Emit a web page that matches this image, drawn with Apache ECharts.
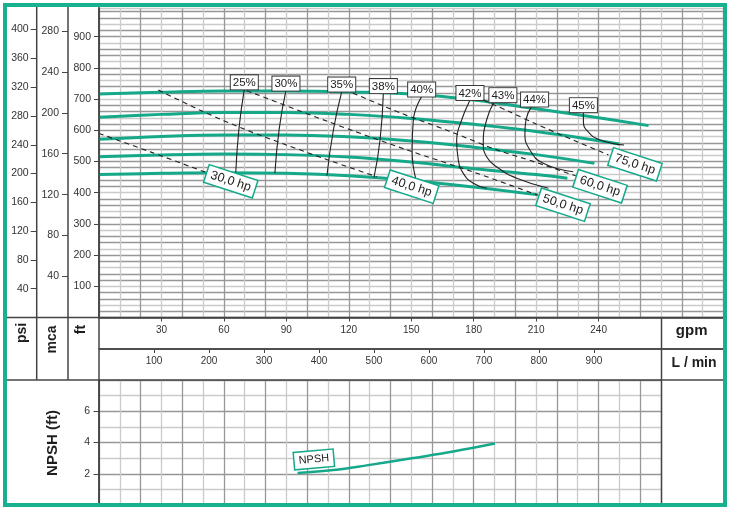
<!DOCTYPE html>
<html><head><meta charset="utf-8">
<script src="https://cdn.jsdelivr.net/npm/echarts@6/dist/echarts.min.js"></script>
<style>html,body{margin:0;padding:0;background:#fff}#c{width:730px;height:512px}</style>
</head><body><div id="c"></div>
<script>
// ---------- DATA ----------
const gpmTicks = [30, 60, 90, 120, 150, 180, 210, 240];
const lpmTicks = [100, 200, 300, 400, 500, 600, 700, 800, 900];
const ftTicks = [100, 200, 300, 400, 500, 600, 700, 800, 900];
const mcaTicks = [40, 80, 120, 160, 200, 240, 280];
const psiTicks = [40, 80, 120, 160, 200, 240, 280, 320, 360, 400];
const npshTicks = [2, 4, 6];

// head curves (gpm, ft)
const head1Gpm = [0, 30, 60, 90, 120, 150, 180, 210, 240, 264];
const head1Ft  = [716, 722, 726, 726, 723, 716, 697, 669, 640, 615];
const head2Gpm = [0, 30, 60, 90, 120, 150, 180, 210, 250];
const head2Ft  = [642, 651, 657, 657, 651, 638, 619, 596, 556];
const head3Gpm = [0, 30, 60, 90, 120, 150, 180, 210, 238];
const head3Ft  = [571, 580, 585, 585, 579, 566, 546, 522, 494];
const head4Gpm = [0, 30, 60, 90, 120, 150, 180, 210, 225];
const head4Ft  = [515, 521, 524, 522, 514, 498, 477, 458, 446];
const head5Gpm = [0, 30, 60, 90, 120, 150, 180, 211];
const head5Ft  = [458, 462, 464, 462, 454, 439, 418, 393];

// efficiency curves
const effNames = ['25%', '30%', '35%', '38%', '40%', '42%', '43%', '44%', '45%'];
const eff25Gpm = [69.8, 67.2, 65.7];            const eff25Ft = [731, 603, 464];
const eff30Gpm = [89.8, 86.6, 84.5];            const eff30Ft = [727, 606, 463];
const eff35Gpm = [116.6, 112.6, 109.5];         const eff35Ft = [724, 601, 455];
const eff38Gpm = [136.6, 135, 132.1];           const eff38Ft = [719, 569, 449];
const eff40Gpm = [155, 151, 150.4, 152.3];      const eff40Ft = [708, 633, 537, 441];
const eff42Gpm = [178.2, 173.5, 171.8, 172.6, 175, 179.8, 186.2];
const eff42Ft  = [697, 620, 569, 505, 462, 430, 414];
const eff43Gpm = [189.7, 186.2, 184.6, 186.2, 191, 200.7, 215.9];
const eff43Ft  = [690, 633, 558, 515, 483, 446, 414];
const eff44Gpm = [207.8, 205.1, 204.6, 207, 213.4, 227.8];
const eff44Ft  = [676, 633, 590, 537, 494, 467];
const eff45Gpm = [232.7, 232.7, 235, 240.7, 252.2];
const eff45Ft  = [658, 628, 595, 569, 553];

// power lines
const hpNames = ['30,0 hp', '40,0 hp', '50,0 hp', '60,0 hp', '75,0 hp'];
const hp30Gpm = [0, 25, 51];                     const hp30Ft = [590, 530, 466];
const hp40Gpm = [28.5, 50, 70, 90, 110, 133.4];  const hp40Ft = [729, 660, 603, 553, 505, 451];
const hp50Gpm = [71, 110, 148, 180, 210.4];      const hp50Ft = [727, 628, 537, 466, 393];
const hp60Gpm = [122, 145, 168, 190, 210, 229];  const hp60Ft = [719, 655, 598, 540, 497, 454];
const hp75Gpm = [184.6, 197, 210, 228, 244.7];   const hp75Ft = [697, 660, 620, 568, 521];

// NPSH
const npshGpm = [95.4, 112.6, 127.8, 150.2, 170.2, 190.2];
const npshFt  = [2.05, 2.24, 2.52, 2.99, 3.42, 3.93];

// ---------- CONSTANTS / STYLE ----------
const FT_MAX = 990, GPM_MAX = 300, GPM_LOW_MAX = 270;
const LPM_PER_GPM = 3.78541, M_PER_FT = 0.3048, PSI_PER_FT = 0.4335;
const TEAL = '#15a98a', FRAME = '#17b18f', INK = '#222', AX = '#444', GD = '#979797', GL = '#cbcbcb';
const FONT = '"Liberation Sans", Arial, Helvetica, sans-serif';

function pts(xs, ys) { return xs.map((x, i) => [x, ys[i]]); }
function rotOff(dx, dy, deg) {
  const r = deg * Math.PI / 180, c = Math.cos(r), s = Math.sin(r);
  return [dx * c - dy * s, dx * s + dy * c];
}

const series = [];
[[head1Gpm, head1Ft], [head2Gpm, head2Ft], [head3Gpm, head3Ft], [head4Gpm, head4Ft], [head5Gpm, head5Ft]]
  .forEach(([xs, ys]) => series.push({
    type: 'line', xAxisIndex: 0, yAxisIndex: 0, data: pts(xs, ys), smooth: 0.4,
    showSymbol: false, silent: true, z: 3, lineStyle: { color: TEAL, width: 3 }
  }));

const effLabelShift = [0, 0, 0, 0, 0, 0, 9, 3, 0];
[[eff25Gpm, eff25Ft], [eff30Gpm, eff30Ft], [eff35Gpm, eff35Ft], [eff38Gpm, eff38Ft], [eff40Gpm, eff40Ft],
 [eff42Gpm, eff42Ft], [eff43Gpm, eff43Ft], [eff44Gpm, eff44Ft], [eff45Gpm, eff45Ft]]
  .forEach(([xs, ys], k) => {
    const data = pts(xs, ys).map((p, i) => i === 0 ? {
      value: p, label: {
        show: true, position: 'top', distance: 0, offset: [effLabelShift[k], 0], formatter: effNames[k],
        backgroundColor: '#fff', borderColor: '#3a3a3a', borderWidth: 1, padding: [1, 2, 0, 2],
        fontSize: 11.5, lineHeight: 13, color: INK, fontFamily: FONT
      }
    } : { value: p });
    series.push({
      type: 'line', xAxisIndex: 0, yAxisIndex: 0, data, smooth: 0.5, showSymbol: true,
      symbol: 'circle', symbolSize: 0.1, itemStyle: { color: '#222' }, label: { show: false },
      lineStyle: { color: '#222', width: 1.1 }, z: 5, silent: true
    });
  });

const hpOffsets = [[25.6, 9.2], [35, 9.9], [26, 9.8], [24.3, 10.4], [26.6, 9.4]];
[[hp30Gpm, hp30Ft], [hp40Gpm, hp40Ft], [hp50Gpm, hp50Ft], [hp60Gpm, hp60Ft], [hp75Gpm, hp75Ft]]
  .forEach(([xs, ys], k) => {
    const n = xs.length;
    const data = pts(xs, ys).map((p, i) => i === n - 1 ? {
      value: p, label: {
        show: true, position: 'inside', rotate: -18, offset: rotOff(hpOffsets[k][0], hpOffsets[k][1], -18),
        align: 'center', verticalAlign: 'middle', formatter: hpNames[k],
        backgroundColor: '#fff', borderColor: TEAL, borderWidth: 1.5, padding: [2, 4, 1, 4],
        fontSize: 12.5, lineHeight: 14, color: INK, fontFamily: FONT
      }
    } : { value: p });
    series.push({
      type: 'line', xAxisIndex: 0, yAxisIndex: 0, data, smooth: 0.3, showSymbol: true,
      symbol: 'circle', symbolSize: 0.1, itemStyle: { color: '#222' }, label: { show: false },
      lineStyle: { color: '#222', width: 1.1, type: [5, 4] }, z: 6, silent: true
    });
  });

series.push({
  type: 'line', xAxisIndex: 3, yAxisIndex: 4, smooth: 0.4, showSymbol: true, symbol: 'circle', symbolSize: 0.1,
  itemStyle: { color: TEAL }, lineStyle: { color: TEAL, width: 2.5 }, z: 5, silent: true, label: { show: false },
  data: pts(npshGpm, npshFt).map((p, i) => i === 0 ? {
    value: p, label: {
      show: true, position: 'inside', rotate: 5, offset: rotOff(16.3, -13.5, 5),
      align: 'center', verticalAlign: 'middle', formatter: 'NPSH',
      backgroundColor: '#fff', borderColor: TEAL, borderWidth: 1.5, padding: [2, 4, 1, 4],
      fontSize: 11, lineHeight: 13, color: INK, fontFamily: FONT
    }
  } : { value: p })
});

// ---------- AXES ----------
const hiddenBits = { axisLine: { show: false, onZero: false }, axisTick: { show: false }, axisLabel: { show: false } };
function labelAxis(extra, ticks, margin, len, size) {
  return Object.assign({
    type: 'value',
    axisLine: { show: false, onZero: false },
    axisTick: { show: true, customValues: ticks, length: len, lineStyle: { color: AX, width: 1 } },
    axisLabel: { customValues: ticks, fontSize: size, color: '#333', margin: margin, fontFamily: FONT },
    splitLine: { show: false }
  }, extra);
}

const xAxis = [
  labelAxis({ gridIndex: 0, min: 0, max: GPM_MAX, position: 'bottom',
    axisLine: { show: true, onZero: false, lineStyle: { color: AX, width: 1.5 } } }, gpmTicks, 8, 4, 10),
  labelAxis({ gridIndex: 0, min: 0, max: GPM_MAX * LPM_PER_GPM, position: 'bottom', offset: 31.5,
    axisLine: { show: true, onZero: false, lineStyle: { color: AX, width: 1.5 } } }, lpmTicks, 7, 4, 10),
  Object.assign({ type: 'value', gridIndex: 0, min: 0, max: GPM_MAX, interval: 10, position: 'top',
    splitLine: { show: true, lineStyle: { color: [GD, GL], width: 1.3 } } }, hiddenBits),
  Object.assign({ type: 'value', gridIndex: 1, min: 0, max: GPM_LOW_MAX, interval: 10, position: 'bottom',
    splitLine: { show: true, lineStyle: { color: [GD, GL], width: 1.3 } } }, hiddenBits)
];

const yAxis = [
  labelAxis({ gridIndex: 0, min: 0, max: FT_MAX, position: 'left',
    axisLine: { show: true, onZero: false, lineStyle: { color: AX, width: 1.5 } } }, ftTicks, 8, 5, 10.5),
  labelAxis({ gridIndex: 0, min: 0, max: FT_MAX * M_PER_FT, position: 'left', offset: 31 }, mcaTicks, 9, 6, 10.5),
  labelAxis({ gridIndex: 0, min: 0, max: FT_MAX * PSI_PER_FT, position: 'left', offset: 62.3 }, psiTicks, 8, 6, 10.5),
  Object.assign({ type: 'value', gridIndex: 0, min: 0, max: FT_MAX, interval: 20, position: 'right',
    splitLine: { show: true, lineStyle: { color: [GD, GD, GL], width: 1.3 } } }, hiddenBits),
  labelAxis({ gridIndex: 1, min: 0, max: 8, position: 'left',
    axisLine: { show: true, onZero: false, lineStyle: { color: AX, width: 1.5 } } }, npshTicks, 9, 5.5, 10.5),
  Object.assign({ type: 'value', gridIndex: 1, min: 0, max: 8, interval: 1, position: 'right',
    splitLine: { show: true, lineStyle: { color: [GD, GL], width: 1.3 } } }, hiddenBits)
];

// ---------- GRAPHIC (frame, table lines, titles) ----------
const graphicEls = [];
function gl(x1, y1, x2, y2) {
  graphicEls.push({ type: 'line', z: 50, silent: true, shape: { x1, y1, x2, y2 }, style: { stroke: AX, lineWidth: 1.5 } });
}
gl(36.7, 7, 36.7, 380); gl(68, 7, 68, 380); gl(99, 7, 99, 505);
gl(7, 317.5, 723, 317.5); gl(99, 349, 723, 349); gl(7, 380, 723, 380); gl(661.5, 317.5, 661.5, 505);
function gt(x, y, text, size, rot) {
  graphicEls.push({ type: 'text', z: 51, x, y, rotation: rot || 0, silent: true,
    style: { text, font: 'bold ' + size + 'px ' + FONT, fill: '#1e1e1e',
      textAlign: 'center', textVerticalAlign: 'middle', align: 'center', verticalAlign: 'middle' } });
}
gt(22, 333, 'psi', 14, Math.PI / 2);
gt(52, 339.5, 'mca', 14, Math.PI / 2);
gt(81, 329.5, 'ft', 14, Math.PI / 2);
gt(691.7, 331, 'gpm', 15);
gt(694, 363.5, 'L / min', 14);
gt(52.5, 443, 'NPSH (ft)', 15, Math.PI / 2);
graphicEls.push({ type: 'rect', z: 100, silent: true, shape: { x: 5, y: 5, width: 720, height: 500 },
  style: { fill: 'none', stroke: FRAME, lineWidth: 4 } });

const chart = echarts.init(document.getElementById('c'), null, { renderer: 'canvas' });
chart.setOption({
  animation: false,
  backgroundColor: '#fff',
  textStyle: { fontFamily: FONT },
  grid: [
    { left: 99, top: 8.6, width: 624.5, height: 308.9, outerBoundsMode: 'none', containLabel: false },
    { left: 99, top: 380, width: 562, height: 125, outerBoundsMode: 'none', containLabel: false }
  ],
  xAxis, yAxis, series,
  graphic: { elements: graphicEls }
});
</script>
</body></html>
